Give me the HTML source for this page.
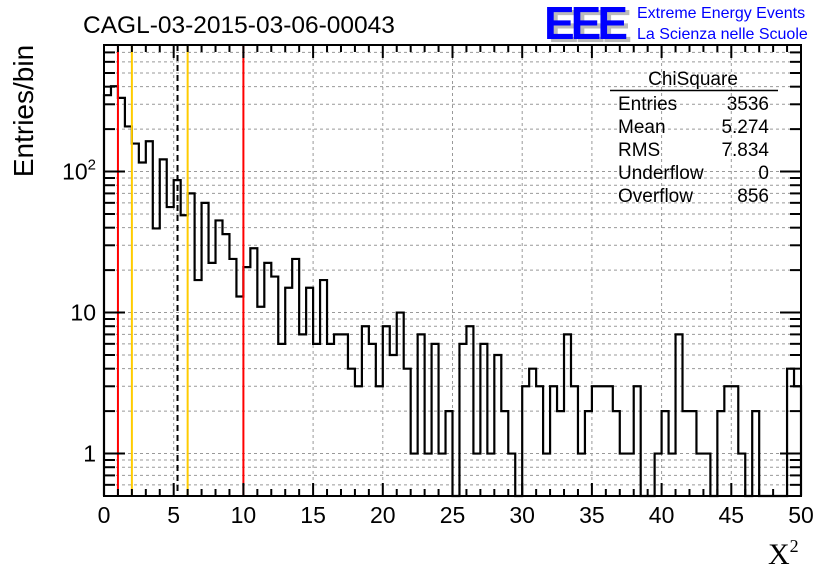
<!DOCTYPE html>
<html><head><meta charset="utf-8"><style>
body{margin:0;background:#fff;}
svg{display:block;font-family:"Liberation Sans",sans-serif;}
</style></head><body>
<svg id="c" width="836" height="572" viewBox="0 0 836 572">
<rect width="836" height="572" fill="#fff"/>
<text x="83" y="33" font-size="24.5">CAGL-03-2015-03-06-00043</text>
<g>
<text x="548" y="42" font-size="46" font-weight="bold" fill="#bbb" letter-spacing="-4">EEE</text>
<text x="544" y="39" font-size="46" font-weight="bold" fill="#0000ff" letter-spacing="-4">EEE</text>
<text x="637" y="18" font-size="16" fill="#0000ff">Extreme Energy Events</text>
<text x="637" y="39" font-size="16" fill="#0000ff">La Scienza nelle Scuole</text>
</g>
<g id="grid"></g>
<g id="hist"></g>
<g id="vlines"></g>
<g id="axes"></g>
<g font-size="19">
<text x="693" y="85" text-anchor="middle">ChiSquare</text>
<line x1="610" y1="90.5" x2="778" y2="90.5" stroke="#000" stroke-width="1.5"/>
<text x="618" y="110">Entries</text><text x="769" y="110" text-anchor="end">3536</text>
<text x="618" y="133">Mean</text><text x="769" y="133" text-anchor="end">5.274</text>
<text x="618" y="156">RMS</text><text x="769" y="156" text-anchor="end">7.834</text>
<text x="618" y="179">Underflow</text><text x="769" y="179" text-anchor="end">0</text>
<text x="618" y="202">Overflow</text><text x="769" y="202" text-anchor="end">856</text>
</g>
<text transform="translate(33,111) rotate(-90)" font-size="28" text-anchor="middle">Entries/bin</text>
<text x="768" y="564" font-size="30" font-family="Liberation Serif,serif">X<tspan font-size="18" dy="-12">2</tspan></text>
</svg>
<script>
const binCounts=[348,403,333,209,158,116,164,39.5,122,56,87,49,70,17,60,22.5,45,36,24,13,21,28.6,11,22.5,18,6,15,24,7,15,6,17,6,7,7,4,3,8,6,3,8,5,10,4,1,7,1,6,1,2,0,6,8,1,6,1,5,2,1,0,3,4,3,1,3,2,7,3,1,2,3,3,3,2,1,1,3,0,0,1,2,1,7,2,2,1,1,0,2,3,3,1,0,2,0,0,0,0,4,3];
const xTicks=[0,5,10,15,20,25,30,35,40,45,50];
const yMajor=[1,10,100];
const yMajorLabels=["1","10","10²"];
const refLines=[{v:1,c:"#ff0000",d:""},{v:2,c:"#ffcc00",d:""},{v:5.274,c:"#000",d:"6,4"},{v:6,c:"#ffcc00",d:""},{v:10,c:"#ff0000",d:""}];
const X0=104,X1=801,Y0=45,Y1=496,xmin=0,xmax=50,binW=0.5;
const ymin=0.5,ymax=790;
const sx=v=>X0+(v-xmin)/(xmax-xmin)*(X1-X0);
const ly=v=>Math.log10(v);
const sy=v=>v<=ymin?Y1:Y1-(ly(v)-ly(ymin))/(ly(ymax)-ly(ymin))*(Y1-Y0);
const NS="http://www.w3.org/2000/svg";
function mk(p,t,a){const e=document.createElementNS(NS,t);for(const k in a)e.setAttribute(k,a[k]);p.appendChild(e);return e;}
const grid=document.getElementById('grid'),axes=document.getElementById('axes'),hist=document.getElementById('hist'),vl=document.getElementById('vlines');
xTicks.forEach(v=>{if(v>xmin&&v<xmax){const l=mk(grid,'line',{x1:sx(v),x2:sx(v),y1:Y0,y2:Y1,stroke:'#999','stroke-dasharray':'3,3'});

}});
const yTickVals=[];
for(let d=0.1;d<1000;d*=10){for(let m=1;m<10;m++){const v=Math.round(d*m*1000)/1000;if(v>=ymin&&v<=ymax)yTickVals.push(v);}}
yTickVals.forEach(v=>{const l=mk(grid,'line',{x1:X0,x2:X1,y1:sy(v),y2:sy(v),stroke:'#999','stroke-dasharray':'3,3'});

});
let d=`M${X0},${Y1}`;
binCounts.forEach((c,i)=>{const xa=sx(xmin+i*binW),xb=sx(xmin+(i+1)*binW),y=sy(c);d+=` L${xa},${y} L${xb},${y}`;});
d+=` L${X1},${Y1}`;
const hp=mk(hist,'path',{d:d,fill:'none',stroke:'#000','stroke-width':2.2});


refLines.forEach(r=>{const l=mk(vl,'line',{x1:sx(r.v),x2:sx(r.v),y1:Y0,y2:Y1,stroke:r.c,'stroke-width':2,'stroke-dasharray':r.d});

});
const fr=mk(axes,'rect',{x:X0,y:Y0,width:X1-X0,height:Y1-Y0,fill:'none',stroke:'#000','stroke-width':2});


for(let v=xmin;v<=xmax;v+=1){const big=v%5===0,L=big?13:7,x=sx(v);
mk(axes,'line',{x1:x,x2:x,y1:Y1,y2:Y1-L,stroke:'#000','stroke-width':2});
mk(axes,'line',{x1:x,x2:x,y1:Y0,y2:Y0+L,stroke:'#000','stroke-width':2});}
xTicks.forEach(v=>{const t=mk(axes,'text',{x:sx(v),y:523,'font-size':23,'text-anchor':'middle'});t.textContent=v;

});
yTickVals.forEach(v=>{const big=yMajor.includes(v),L=big?21:11,y=sy(v);
mk(axes,'line',{x1:X0,x2:X0+L,y1:y,y2:y,stroke:'#000','stroke-width':2});
mk(axes,'line',{x1:X1,x2:X1-L,y1:y,y2:y,stroke:'#000','stroke-width':2});});
yMajor.forEach((v,i)=>{const t=mk(axes,'text',{x:96,y:sy(v)+8,'font-size':23,'text-anchor':'end'});
if(i===2){t.textContent='10';const ts=mk(t,'tspan',{'font-size':15,dy:-10});ts.textContent='2';}else t.textContent=yMajorLabels[i];

});
</script>
</body></html>
